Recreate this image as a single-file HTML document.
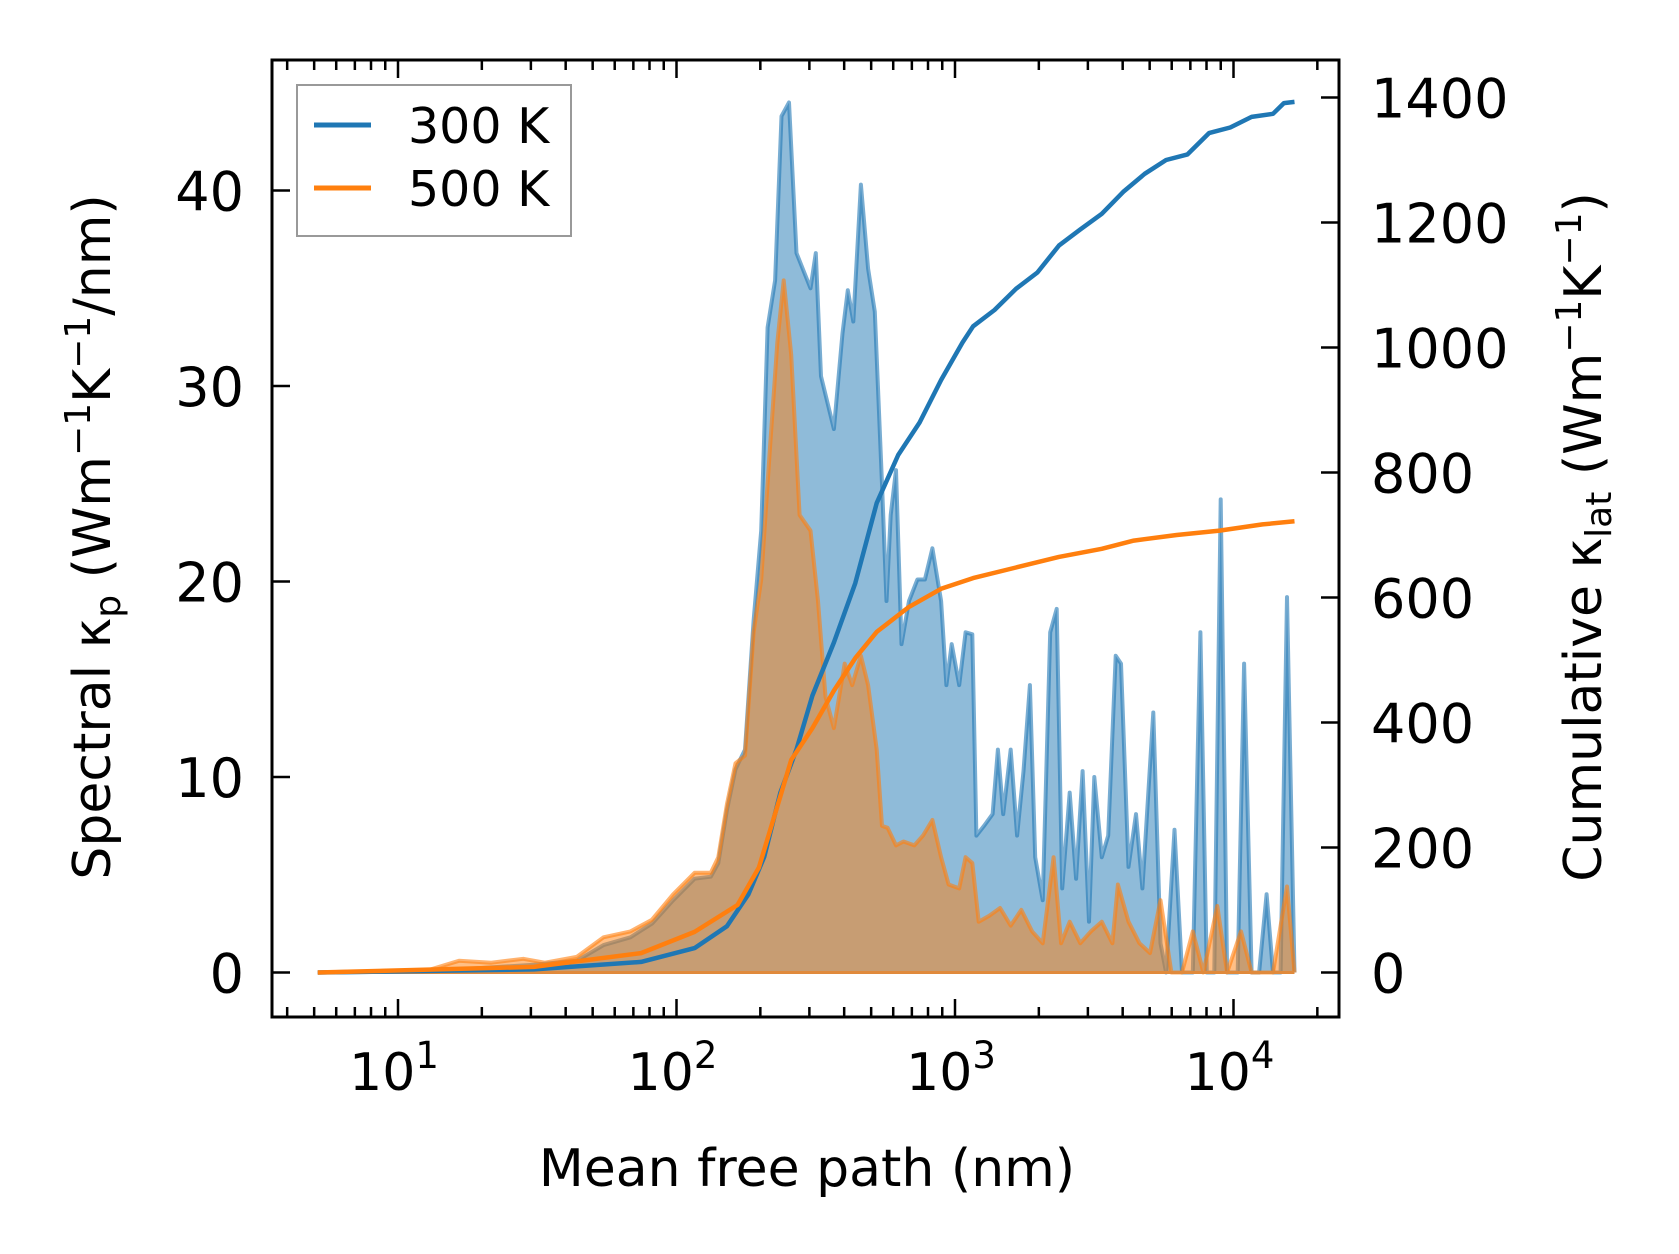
<!DOCTYPE html>
<html><head><meta charset="utf-8"><style>
html,body{margin:0;padding:0;background:#fff;}
svg{display:block;font-family:"DejaVu Sans","Liberation Sans",sans-serif;}
</style></head><body>
<svg id="chart" width="1679" height="1254" viewBox="0 0 1679 1254" xmlns="http://www.w3.org/2000/svg">
<rect width="1679" height="1254" fill="#fff"/>
<g id="plot"></g>
</svg>
<script>
// log10 of mean free path (nm) for spectral samples
const blueLog = [0.712,1.104,1.488,1.642,1.738,1.835,1.912,1.988,2.065,2.123,2.15,2.181,2.212,2.246,2.277,2.304,2.327,2.354,2.377,2.404,2.431,2.481,2.5,2.519,2.565,2.596,2.615,2.635,2.662,2.688,2.712,2.738,2.754,2.769,2.788,2.808,2.835,2.865,2.892,2.919,2.95,2.969,2.988,3.015,3.038,3.062,3.077,3.104,3.135,3.154,3.173,3.2,3.223,3.246,3.269,3.288,3.315,3.342,3.365,3.385,3.412,3.435,3.458,3.481,3.5,3.527,3.55,3.577,3.596,3.623,3.65,3.673,3.712,3.738,3.758,3.788,3.815,3.854,3.881,3.904,3.931,3.954,3.977,4.015,4.038,4.065,4.092,4.119,4.142,4.169,4.192,4.219];
const blueSpec = [0,0.05,0.4,0.6,1.4,1.8,2.5,3.7,4.8,4.9,5.6,8.3,10.4,11.4,18,22.6,33,35.4,43.8,44.5,36.8,35,36.8,30.5,27.8,32.7,34.9,33.3,40.3,36,33.8,25,19,23.4,25.7,16.8,19,20.1,20.1,21.7,19,14.7,16.8,14.7,17.4,17.3,7,7.5,8.1,11.4,8.1,11.4,7,10.3,14.7,5.9,3.7,17.4,18.6,4.3,9.2,4.8,10.3,2.6,10,5.9,7,16.2,15.8,5.4,8.1,4.3,13.3,1.5,0,7.3,0,0,17.4,0,0,24.2,0,0,15.8,0,0,4,0,0,19.2,0];
const orangeLog = [0.712,1.104,1.219,1.335,1.45,1.527,1.642,1.738,1.835,1.912,1.988,2.065,2.123,2.15,2.181,2.212,2.246,2.277,2.304,2.335,2.362,2.385,2.412,2.442,2.481,2.508,2.535,2.565,2.604,2.631,2.662,2.688,2.719,2.738,2.758,2.788,2.815,2.854,2.885,2.919,2.95,2.977,3.015,3.038,3.062,3.085,3.123,3.162,3.2,3.238,3.277,3.315,3.354,3.381,3.412,3.45,3.488,3.527,3.565,3.585,3.623,3.662,3.7,3.738,3.777,3.815,3.854,3.892,3.942,3.977,4.027,4.065,4.142,4.192,4.219];
const orangeSpec = [0,0.1,0.6,0.5,0.7,0.5,0.8,1.8,2.1,2.7,4.0,5.1,5.1,5.9,8.6,10.7,11.1,17.4,20.1,26.7,32.2,35.4,31.6,23.4,22.6,19,14.1,12.5,15.8,14.7,16.2,14.7,11.4,7.5,7.4,6.5,6.7,6.5,7.0,7.8,5.9,4.5,4.3,5.9,5.6,2.6,2.9,3.3,2.4,3.2,2.1,1.5,5.9,1.5,2.6,1.5,2.1,2.6,1.5,4.5,2.6,1.5,1.0,3.7,0,0,2.1,0,3.4,0,2.1,0,0,4.4,0];
// cumulative kappa (right axis)
const blueCumLog = [0.712,1.488,1.873,2.065,2.181,2.258,2.315,2.373,2.431,2.488,2.565,2.642,2.719,2.796,2.873,2.95,3.027,3.065,3.142,3.219,3.296,3.373,3.45,3.527,3.604,3.681,3.758,3.835,3.912,3.988,4.065,4.142,4.181,4.219];
const blueCum = [0,5,17,39,74,125,185,288,357,443,528,623,751,828,880,948,1008,1034,1060,1094,1120,1163,1189,1214,1249,1278,1300,1309,1343,1352,1369,1374,1391,1393];
const orangeCumLog = [0.712,1.488,1.873,2.065,2.219,2.296,2.354,2.412,2.488,2.565,2.642,2.719,2.835,2.95,3.065,3.219,3.373,3.527,3.642,3.796,3.95,4.104,4.219];
const orangeCum = [0,9,31,65,108,168,254,340,391,451,503,545,585,614,631,648,665,678,691,700,707,717,722];
const xTickExp = [1,2,3,4];
const yLeftTicks = [0,10,20,30,40];
const yRightTicks = [0,200,400,600,800,1000,1200,1400];

const L=272,R=1339,T=60,B=1017;
const X = lg => 398 + (lg-1)*278.5;
const YL = v => 972.5 - v*19.55;
const YR = v => 972.5 - v*0.625;
const NS="http://www.w3.org/2000/svg";
const g=document.getElementById('plot');
function mk(tag,attrs,parent){const e=document.createElementNS(NS,tag);for(const k in attrs)e.setAttribute(k,attrs[k]);(parent||g).appendChild(e);return e;}

function areaPath(lx,vy,yf){const n=Math.min(lx.length,vy.length);let d='M'+X(lx[0])+','+yf(0);for(let i=0;i<n;i++)d+=' L'+X(lx[i]).toFixed(1)+','+yf(vy[i]).toFixed(1);d+=' L'+X(lx[n-1])+','+yf(0)+'Z';return d;}
function linePath(lx,vy,yf){const n=Math.min(lx.length,vy.length);let d='';for(let i=0;i<n;i++)d+=(i?' L':'M')+X(lx[i]).toFixed(1)+','+yf(vy[i]).toFixed(1);return d;}

let e;
e=mk('path',{d:areaPath(blueLog,blueSpec,YL),fill:'#1f77b4','fill-opacity':0.5,stroke:'none'});


e=mk('path',{d:linePath(blueLog,blueSpec,YL),fill:'none',stroke:'#1f77b4','stroke-opacity':0.6,'stroke-width':4,'stroke-linejoin':'round'});


e=mk('path',{d:areaPath(orangeLog,orangeSpec,YL),fill:'#ff7f0e','fill-opacity':0.5,stroke:'none'});


e=mk('path',{d:linePath(orangeLog,orangeSpec,YL),fill:'none',stroke:'#ff7f0e','stroke-opacity':0.6,'stroke-width':4,'stroke-linejoin':'round'});


e=mk('line',{x1:X(0.712),x2:X(4.219),y1:YL(0),y2:YL(0),stroke:'#e08a3c','stroke-width':3});


e=mk('path',{d:linePath(blueCumLog,blueCum,YR),fill:'none',stroke:'#1f77b4','stroke-width':4.5,'stroke-linejoin':'round'});


e=mk('path',{d:linePath(orangeCumLog,orangeCum,YR),fill:'none',stroke:'#ff7f0e','stroke-width':4.5,'stroke-linejoin':'round'});



// frame
e=mk('rect',{x:L,y:T,width:R-L,height:B-T,fill:'none',stroke:'#000','stroke-width':3});



// x ticks (bottom & top) with minors
for(let d=0;d<=4;d++){for(let m=1;m<10;m++){const lg=d+Math.log10(m);const x=X(lg);if(x<L||x>R)continue;const len=m===1?18:10;
 e=mk('line',{x1:x,x2:x,y1:B,y2:B-len,stroke:'#000','stroke-width':2.5});
 
 
 e=mk('line',{x1:x,x2:x,y1:T,y2:T+len,stroke:'#000','stroke-width':2.5});
 
 }}
xTickExp.forEach(p=>{const t=mk('text',{x:X(p)-4,y:1090,'font-size':52,'text-anchor':'middle'});
 
 
 t.appendChild(document.createTextNode('10'));const s=mk('tspan',{dy:-22,'font-size':37},t);s.textContent=p;});
yLeftTicks.forEach(v=>{const y=YL(v);
 e=mk('line',{x1:L,x2:L+18,y1:y,y2:y,stroke:'#000','stroke-width':2.5});
 
 
 const t=mk('text',{x:244,y:y+20,'font-size':54,'text-anchor':'end'});t.textContent=v;
 
 });
yRightTicks.forEach(v=>{const y=YR(v);
 e=mk('line',{x1:R,x2:R-18,y1:y,y2:y,stroke:'#000','stroke-width':2.5});
 
 
 const t=mk('text',{x:1371,y:y+20,'font-size':54,'text-anchor':'start'});t.textContent=v;
 
 });
</script>
<svg style="position:absolute;left:0;top:0" width="1679" height="1254" xmlns="http://www.w3.org/2000/svg">
<text x="807" y="1186" font-size="52" text-anchor="middle">Mean free path (nm)</text>
<text transform="translate(110,537) rotate(-90)" font-size="52" text-anchor="middle">Spectral κ<tspan dy="10" font-size="36">p</tspan><tspan dy="-10"> (Wm</tspan><tspan dy="-20" font-size="36">−1</tspan><tspan dy="20">K</tspan><tspan dy="-20" font-size="36">−1</tspan><tspan dy="20">/nm)</tspan></text>
<text transform="translate(1601,537) rotate(-90)" font-size="52" text-anchor="middle">Cumulative κ<tspan dy="10" font-size="36">lat</tspan><tspan dy="-10"> (Wm</tspan><tspan dy="-20" font-size="36">−1</tspan><tspan dy="20">K</tspan><tspan dy="-20" font-size="36">−1</tspan><tspan dy="20">)</tspan></text>
<g>
<rect x="297" y="85" width="274" height="151" fill="#fff" fill-opacity="0.8" stroke="#999" stroke-width="2"/>
<line x1="314" x2="371" y1="125" y2="125" stroke="#1f77b4" stroke-width="5"/>
<text x="408" y="143" font-size="49">300 K</text>
<line x1="314" x2="371" y1="188" y2="188" stroke="#ff7f0e" stroke-width="5"/>
<text x="408" y="206" font-size="49">500 K</text>
</g>
</svg>
</body></html>
